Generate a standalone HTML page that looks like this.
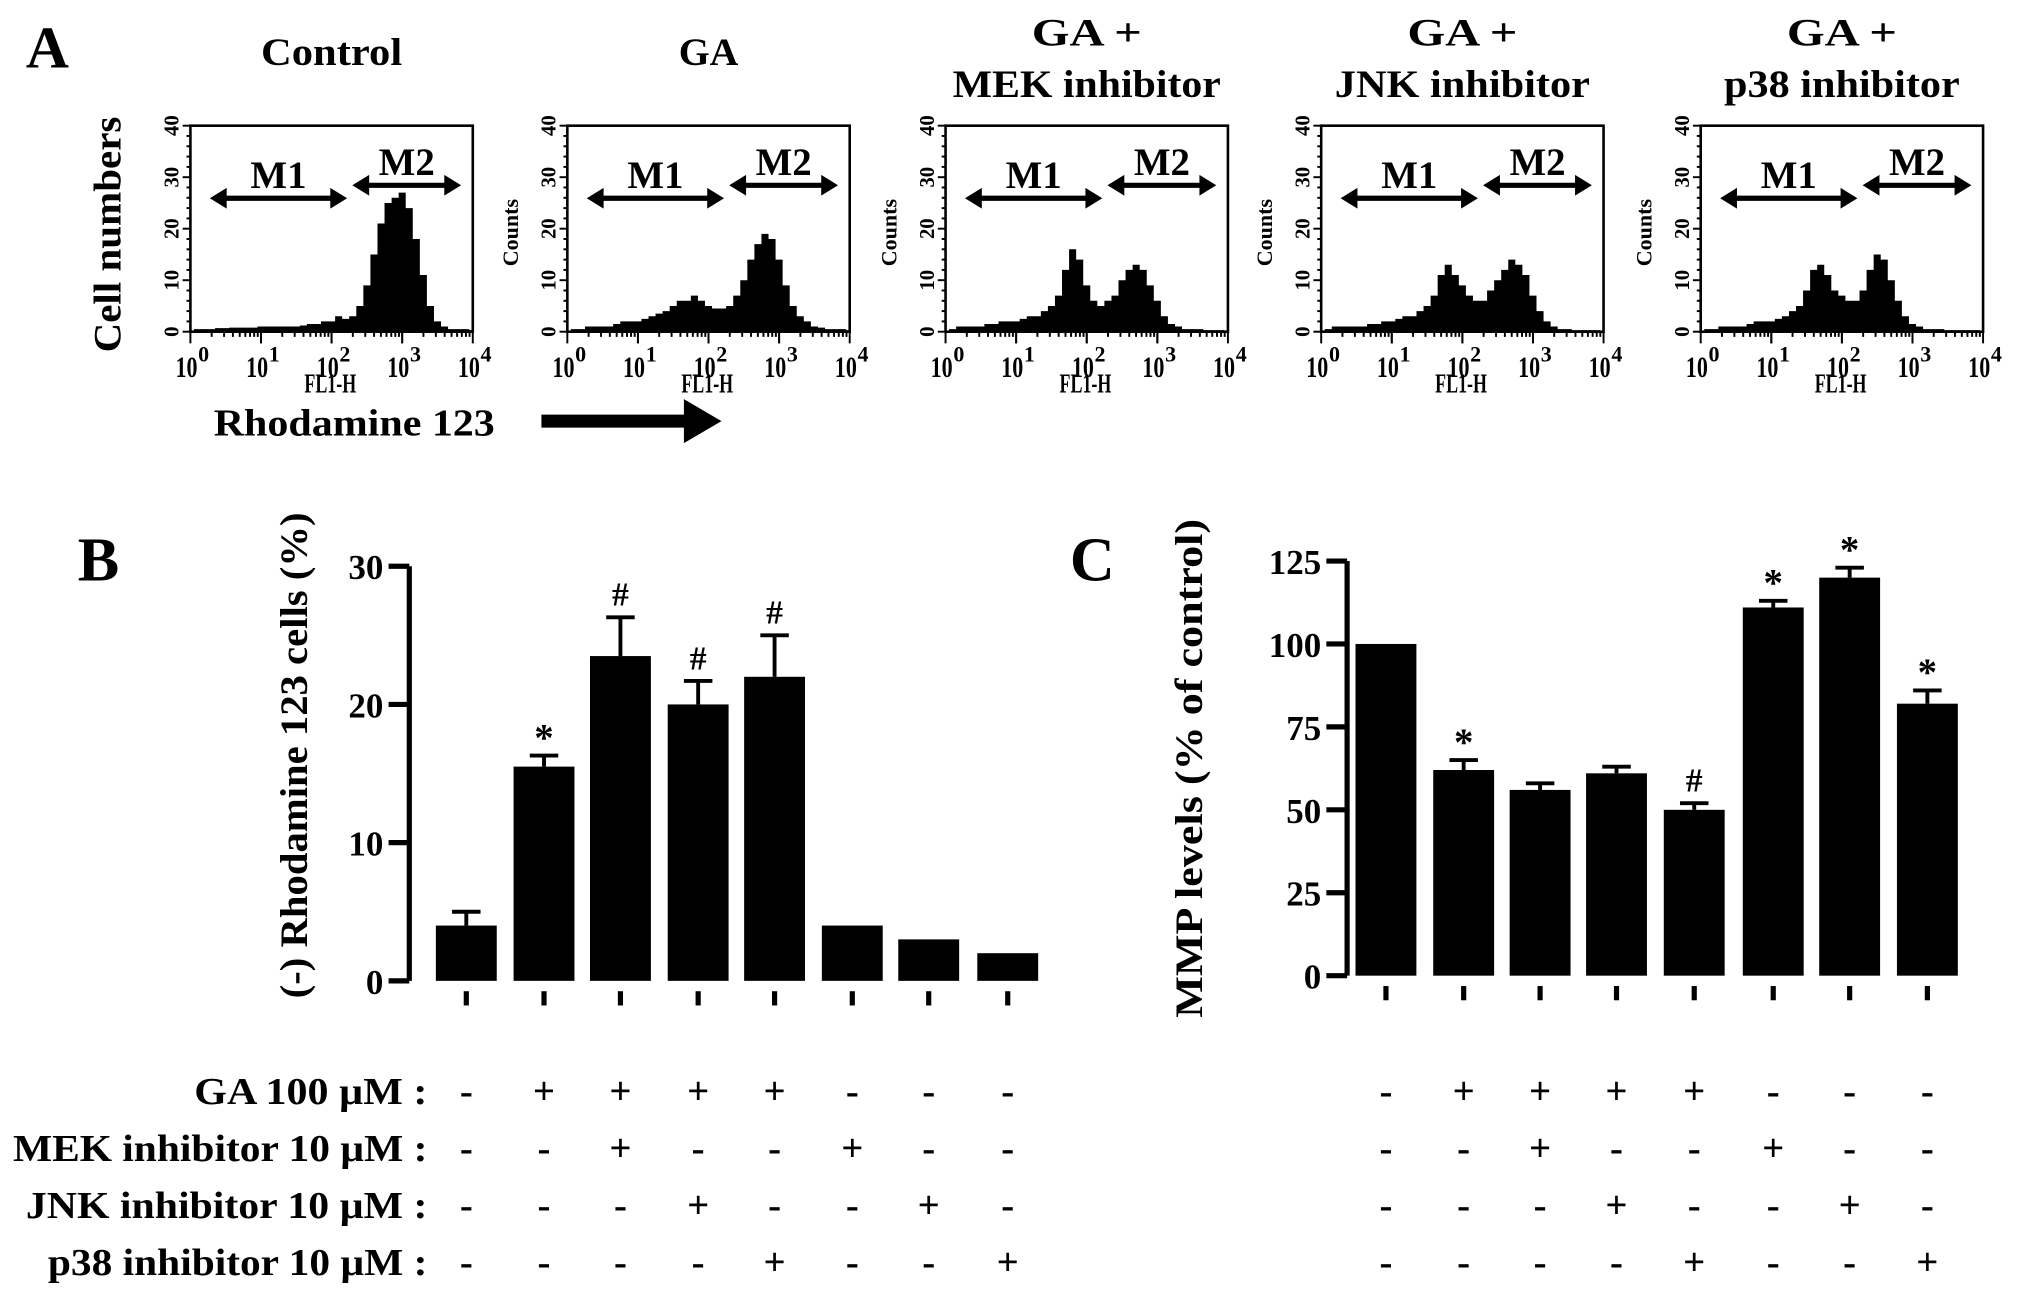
<!DOCTYPE html>
<html><head><meta charset="utf-8"><style>
html,body{margin:0;padding:0;background:#fff;}
svg{display:block;}
text{font-family:"Liberation Serif",serif;font-weight:bold;fill:#000;}
</style></head><body>
<svg id="fig" width="2031" height="1297" viewBox="0 0 1568 1001" preserveAspectRatio="none" xmlns="http://www.w3.org/2000/svg">
<text x="20" y="52" font-size="46">A</text>
<text x="60" y="448" font-size="48">B</text>
<text x="826" y="448" font-size="48">C</text>
<text transform="translate(93,181) rotate(-90)" text-anchor="middle" font-size="30" textLength="182" lengthAdjust="spacingAndGlyphs">Cell numbers</text>
<text x="165" y="336" font-size="29" textLength="217" lengthAdjust="spacingAndGlyphs">Rhodamine 123</text>
<polygon points="418,320 528,320 528,308 557,325 528,342 528,330 418,330" fill="#000"/>
<g id="histos"></g>
<g id="chartB"></g>
<g id="chartC"></g>
<g id="table"></g>
</svg>
<script>
const NS="http://www.w3.org/2000/svg";
const histTitles=[["Control"],["GA"],["GA +","MEK inhibitor"],["GA +","JNK inhibitor"],["GA +","p38 inhibitor"]];
const histTitleLens=[[109],[46],[85,207],[85,197],[85,182]];
const histLefts=[147,438,730,1020,1313];
const histControl=[0,0.5,0.5,0.5,0.7,0.7,0.8,0.8,0.8,0.8,1,1,1,1,1,1,1.2,1.5,1.5,2,2,3,2.5,3,5,9,15,21,25,26,27,24,18,11,5,2,1,0.5,0.5,0.5,0.3];
const histGA=[0,0.5,0.5,1,1,1,1,1.5,2,2,2,2.5,3,3.5,4,5,6,6,7,6,5,4.5,4.5,5,7,10,14,17,19,18,14,9,5,3,2,1,0.8,0.5,0.5,0.5,0.3];
const histMEK=[0,0.5,1,1,1,1,1.5,1.5,2,2,2,2.5,3,3,4,5,7,12,16,14,9,6,5,6,7,10,12,13,12,9,6,3,1.5,1,0.5,0.5,0.5,0.3,0.3,0.3,0];
const histJNK=[0,0.5,1,1,1,1,1,1.5,1.5,2,2,2.5,3,3,4,5,7,11,13,11,9,7,6,6,8,10,12,14,13,11,7,4,2,1,0.5,0.5,0.3,0.3,0.3,0.3,0];
const histP38=[0,0.5,0.5,1,1,1,1,1.5,2,2,2,2.5,3,4,5,8,12,13,11,8,7,6,6,8,12,15,14,10,6,3,1.5,1,0.5,0.5,0.5,0.3,0.3,0.3,0.3,0.3,0];
const histSeries=[histControl,histGA,histMEK,histJNK,histP38];
const countTicks=[0,10,20,30,40];
const decadeLabels=["0","1","2","3","4"];

function mk(tag,attrs,parent,txt){const e=document.createElementNS(NS,tag);for(const k in attrs)e.setAttribute(k,attrs[k]);if(txt!==undefined)e.textContent=txt;parent.appendChild(e);return e;}

const H=document.getElementById('histos');
const hTop=97,hBot=256,hW=218;
histSeries.forEach((d,i)=>{
  const L=histLefts[i];
  const g=mk('g',{},H);
  
  
  const xs=v=>L+v/4*hW, ys=c=>hBot-c/40*(hBot-hTop);
  histTitles[i].forEach((t,j)=>{
    const tt=mk('text',{x:L+hW/2,y:histTitles[i].length==1?50:(j==0?35:75),'text-anchor':'middle','font-size':30,textLength:histTitleLens[i][j],lengthAdjust:'spacingAndGlyphs'},g,t);
    
    
  });
  const box=mk('rect',{x:L,y:hTop,width:hW,height:hBot-hTop,fill:'none',stroke:'#000','stroke-width':2},g);
  
  
  let pts=[];
  d.forEach((v,k)=>{const x0=xs(Math.max(0,k*0.1-0.05)),x1=xs(Math.min(4,k*0.1+0.05));pts.push(x0+','+ys(v),x1+','+ys(v));});
  pts.unshift(xs(0)+','+hBot);pts.push(xs(4)+','+hBot);
  const p=mk('polygon',{points:pts.join(' '),fill:'#000'},g);
  
  
  for(let c=0;c<=40;c+=2){mk('line',{x1:L-(c%10==0?6:3),x2:L,y1:ys(c),y2:ys(c),stroke:'#000','stroke-width':1.5},g);}
  countTicks.forEach(c=>{
    const t=mk('text',{transform:`translate(${L-9},${ys(c)}) rotate(-90)`,'text-anchor':'middle','font-size':16},g,String(c));
    
    
  });
  if(i>0){const t=mk('text',{transform:`translate(${L-38},${ys(20)+3}) rotate(-90)`,'text-anchor':'middle','font-size':17},g,'Counts');
    
    }
  for(let dcd=0;dcd<4;dcd++){for(let m=1;m<=10;m++){const x=xs(dcd+Math.log10(m));mk('line',{x1:x,x2:x,y1:hBot,y2:hBot+(m==1||m==10?9:4),stroke:'#000','stroke-width':1.5},g);}}
  decadeLabels.forEach((s,k)=>{
    const t=mk('text',{x:xs(k)-3,y:291,'text-anchor':'middle','font-size':23,textLength:17,lengthAdjust:'spacingAndGlyphs'},g,'10');
    
    
    mk('text',{x:xs(k)+6,y:279,'font-size':17},g,s);
  });
  const f=mk('text',{x:L+108,y:303,'text-anchor':'middle','font-size':21,textLength:40,lengthAdjust:'spacingAndGlyphs'},g,'FL1-H');
  
  
  [[15,121,153,'M1'],[125,209,143,'M2']].forEach(([a,b,y,lab])=>{
    const x1=L+a,x2=L+b;
    const ar=mk('polygon',{points:`${x1},${y} ${x1+13},${y-8} ${x1+13},${y-2} ${x2-13},${y-2} ${x2-13},${y-8} ${x2},${y} ${x2-13},${y+8} ${x2-13},${y+2} ${x1+13},${y+2} ${x1+13},${y+8}`,fill:'#000'},g);
    
    
    const lt=mk('text',{x:(x1+x2)/2,y:y-8,'text-anchor':'middle','font-size':30},g,lab);
    
    
  });
});

const barCentersB=[360,420,479,539,598,658,717,778];
const barCentersC=[1070,1130,1189,1248,1308,1369,1428,1488];
const valuesB=[4,15.5,23.5,20,22,4,3,2];
const errorsB=[1,0.8,2.8,1.7,3,0,0,0];
const marksB=["","*","#","#","#","","",""];
const ticksB=[0,10,20,30];
const valuesC=[100,62,56,61,50,111,120,82];
const errorsC=[0,3,2,2,2,2,3,4];
const marksC=["","*","","","#","*","*","*"];
const ticksC=[0,25,50,75,100,125];

function barChart(gid,axisX,yTop,yBot,maxV,ticks,vals,errs,marks,centers,ylabel,ylx,ylc,yllen,name){
  const G=document.getElementById(gid);
  
  
  const y=v=>yBot-v/maxV*(yBot-yTop);
  mk('line',{x1:axisX,x2:axisX,y1:yTop,y2:yBot,stroke:'#000','stroke-width':4},G);
  ticks.forEach(t=>{
    mk('line',{x1:axisX-16,x2:axisX,y1:y(t),y2:y(t),stroke:'#000','stroke-width':4},G);
    const tl=mk('text',{x:axisX-20,y:y(t)+10,'text-anchor':'end','font-size':27},G,String(t));
    
    
  });
  const yl=mk('text',{transform:`translate(${ylx},${ylc}) rotate(-90)`,'text-anchor':'middle','font-size':30,textLength:yllen,lengthAdjust:'spacingAndGlyphs'},G,ylabel);
  
  
  vals.forEach((v,i)=>{
    const c=centers[i],w=47;
    const r=mk('rect',{x:c-w/2,y:y(v),width:w,height:yBot-y(v),fill:'#000'},G);
    
    
    if(errs[i]>0){const ye=y(v+errs[i]);
      mk('line',{x1:c,x2:c,y1:ye,y2:y(v),stroke:'#000','stroke-width':3},G);
      mk('line',{x1:c-11,x2:c+11,y1:ye,y2:ye,stroke:'#000','stroke-width':3},G);}
    mk('line',{x1:c,x2:c,y1:yBot+8,y2:yBot+19,stroke:'#000','stroke-width':4},G);
    if(marks[i]){const m=mk('text',{x:c,y:y(v+errs[i])-(marks[i]=='*'?4:9),'text-anchor':'middle','font-size':marks[i]=='*'?30:26,'font-weight':'normal'},G,marks[i]);
      
      }
  });
}
barChart('chartB',316,437,757,30,ticksB,valuesB,errorsB,marksB,barCentersB,'(-) Rhodamine 123 cells (%)',237,583,375,'chart-b');
barChart('chartC',1040,433,753,125,ticksC,valuesC,errorsC,marksC,barCentersC,'MMP levels (% of control)',928,593,385,'chart-c');

const rowLabels=["GA 100 \u00b5M :","MEK inhibitor 10 \u00b5M :","JNK inhibitor 10 \u00b5M :","p38 inhibitor 10 \u00b5M :"];
const rowLens=[180,320,310,293];
const rowYs=[852,896,940,984];
const treat=[["-","+","+","+","+","-","-","-"],["-","-","+","-","-","+","-","-"],["-","-","-","+","-","-","+","-"],["-","-","-","-","+","-","-","+"]];
const T=document.getElementById('table');
rowLabels.forEach((lab,r)=>{
  const t=mk('text',{x:330-rowLens[r],y:rowYs[r],'font-size':29,textLength:rowLens[r],lengthAdjust:'spacingAndGlyphs'},T,lab);
  
  
  [barCentersB,barCentersC].forEach(cs=>cs.forEach((c,i)=>{
    const s=mk('text',{x:c,y:rowYs[r],'text-anchor':'middle','font-size':30,'font-weight':'normal'},T,treat[r][i]);
    
    
  }));
});
</script>
</body></html>
